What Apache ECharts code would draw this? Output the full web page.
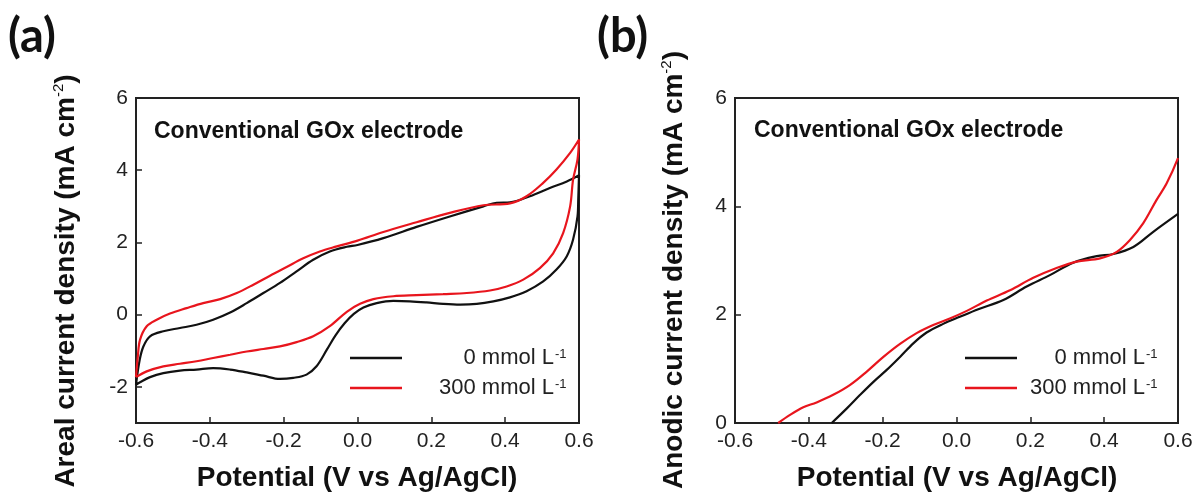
<!DOCTYPE html>
<html>
<head>
<meta charset="utf-8">
<script src="https://cdn.jsdelivr.net/npm/echarts@6/dist/echarts.min.js"></script>
<style>
  html, body { margin: 0; padding: 0; background: #fff; }
  #chart { width: 1197px; height: 495px; }
</style>
</head>
<body>
<div id="chart"></div>
<script>
// ---------- Tick labels ----------
const xTicks = [-0.6, -0.4, -0.2, 0.0, 0.2, 0.4, 0.6];
const yTicksA = [-2, 0, 2, 4, 6];
const yTicksB = [0, 2, 4, 6];

// ---------- Series names ----------
const seriesNames = ['0 mmol L-1', '300 mmol L-1'];

// ---------- Panel (a): full CV loops (anodic sweep then cathodic sweep) ----------
const aBlackX = [-0.600, -0.590, -0.580, -0.562, -0.526, -0.481, -0.436, -0.391, -0.345, -0.300, -0.255, -0.210, -0.165, -0.120, -0.075, -0.029, 0.000, 0.070, 0.160, 0.250, 0.341, 0.377, 0.413, 0.467, 0.521, 0.567, 0.600,
                 0.598, 0.596, 0.584, 0.567, 0.539, 0.503, 0.458, 0.413, 0.368, 0.323, 0.278, 0.232, 0.187, 0.142, 0.097, 0.052, 0.016, -0.010, -0.035, -0.060, -0.083, -0.111, -0.138, -0.174, -0.210, -0.255, -0.300, -0.345, -0.391, -0.436, -0.481, -0.526, -0.562, -0.589, -0.600];
const aBlackY = [-1.94, -1.25, -0.88, -0.60, -0.46, -0.37, -0.28, -0.14, 0.06, 0.32, 0.60, 0.88, 1.20, 1.52, 1.75, 1.88, 1.93, 2.12, 2.43, 2.72, 3.00, 3.10, 3.11, 3.28, 3.51, 3.69, 3.86,
                 3.20, 2.72, 2.08, 1.62, 1.25, 0.92, 0.65, 0.48, 0.37, 0.30, 0.28, 0.30, 0.34, 0.37, 0.38, 0.32, 0.20, 0.02, -0.24, -0.58, -0.97, -1.43, -1.66, -1.75, -1.78, -1.69, -1.60, -1.52, -1.48, -1.52, -1.55, -1.62, -1.73, -1.87, -1.94];

const aRedX = [-0.600, -0.595, -0.589, -0.571, -0.544, -0.508, -0.463, -0.418, -0.372, -0.327, -0.282, -0.237, -0.192, -0.147, -0.102, -0.056, 0.000, 0.070, 0.160, 0.250, 0.341, 0.413, 0.458, 0.503, 0.539, 0.576, 0.600,
               0.596, 0.584, 0.576, 0.557, 0.530, 0.494, 0.449, 0.404, 0.359, 0.296, 0.232, 0.160, 0.097, 0.043, 0.007, -0.029, -0.075, -0.120, -0.165, -0.210, -0.255, -0.300, -0.345, -0.391, -0.436, -0.481, -0.526, -0.571, -0.600];
const aRedY = [-1.73, -1.15, -0.69, -0.32, -0.14, 0.03, 0.18, 0.32, 0.43, 0.60, 0.83, 1.08, 1.32, 1.56, 1.75, 1.89, 2.05, 2.29, 2.56, 2.82, 3.03, 3.08, 3.28, 3.65, 4.02, 4.48, 4.85,
               4.30, 3.74, 3.00, 2.26, 1.70, 1.29, 0.97, 0.78, 0.67, 0.60, 0.57, 0.54, 0.51, 0.43, 0.30, 0.08, -0.32, -0.60, -0.76, -0.88, -0.95, -1.02, -1.11, -1.20, -1.29, -1.36, -1.43, -1.57, -1.73];

// ---------- Panel (b): anodic branches ----------
const bBlackX = [-0.338, -0.297, -0.261, -0.225, -0.189, -0.153, -0.117, -0.081, -0.036, 0.009, 0.059, 0.127, 0.190, 0.253, 0.316, 0.380, 0.425, 0.479, 0.533, 0.600];
const bBlackY = [0.00, 0.27, 0.52, 0.76, 0.98, 1.22, 1.47, 1.67, 1.83, 1.96, 2.10, 2.27, 2.52, 2.73, 2.96, 3.08, 3.12, 3.25, 3.53, 3.86];

const bRedX = [-0.483, -0.451, -0.415, -0.379, -0.334, -0.289, -0.243, -0.198, -0.153, -0.108, -0.063, -0.018, 0.028, 0.082, 0.145, 0.208, 0.271, 0.325, 0.389, 0.434, 0.470, 0.506, 0.542, 0.569, 0.600];
const bRedY = [0.00, 0.15, 0.29, 0.38, 0.52, 0.70, 0.95, 1.22, 1.46, 1.66, 1.81, 1.93, 2.07, 2.26, 2.45, 2.68, 2.86, 2.98, 3.04, 3.16, 3.38, 3.69, 4.12, 4.42, 4.89];

// ---------- Build ----------
const zip = (xs, ys) => xs.map((x, i) => [x, ys[i]]);
const FONT = "'Liberation Sans', Arial, sans-serif";
const BLACK = '#111111';
const RED = '#e8151d';
const AXIS = '#222222';
const TICK_FS = 21;
const LEG_FS = 22;

function fmtX(v) {
  const r = Math.round(v * 10) / 10;
  return (Math.abs(r) < 1e-9 ? 0 : r).toFixed(1);
}

function xAxisFor(gridIndex) {
  return {
    type: 'value', gridIndex, min: -0.6, max: 0.6, interval: 0.2,
    axisLine: { show: true, onZero: false, lineStyle: { color: AXIS, width: 2 } },
    axisTick: { show: true, inside: true, length: 6, lineStyle: { color: AXIS, width: 1.5 } },
    axisLabel: { fontSize: TICK_FS, color: '#222', fontFamily: FONT, margin: 8, formatter: fmtX },
    splitLine: { show: false }
  };
}

function yAxisFor(gridIndex, min, max, ticks) {
  return {
    type: 'value', gridIndex, min, max,
    axisLine: { show: true, onZero: false, lineStyle: { color: AXIS, width: 2 } },
    axisTick: { show: true, inside: true, length: 6, customValues: ticks, lineStyle: { color: AXIS, width: 1.5 } },
    axisLabel: { fontSize: TICK_FS, color: '#222', fontFamily: FONT, margin: 8, customValues: ticks },
    splitLine: { show: false }
  };
}

// padLong: space between the line sample and the longer label; the short one is shifted so both end flush right
function legendFor(left, top, padLong) {
  const padShort = padLong + 2 * 0.556 * LEG_FS; // "0" vs "300": two extra digits
  return {
    left, top, padding: 0, orient: 'vertical', icon: 'rect', itemWidth: 52, itemHeight: 2.5, itemGap: 8,
    data: seriesNames,
    formatter: function (name) {
      const key = name.indexOf('300') === 0 ? 'tl' : 'ts';
      return '{' + key + '|' + name.replace(/-1$/, '') + '}{s|-1}';
    },
    textStyle: {
      color: '#222', fontFamily: FONT,
      rich: {
        ts: { fontSize: LEG_FS, lineHeight: 24, padding: [0, 0, 0, padShort], color: '#222', fontFamily: FONT },
        tl: { fontSize: LEG_FS, lineHeight: 24, padding: [0, 0, 0, padLong], color: '#222', fontFamily: FONT },
        s: { fontSize: 13, padding: [0, 0, 8, 1], color: '#222', fontFamily: FONT }
      }
    }
  };
}

function lineSeries(name, xi, yi, data, color) {
  return {
    name, type: 'line', xAxisIndex: xi, yAxisIndex: yi, data,
    showSymbol: false, symbol: 'none', smooth: 0.35, clip: true,
    lineStyle: { color, width: 2.2 }, itemStyle: { color },
    emphasis: { disabled: true }, animation: false
  };
}

function yTitle(x, y, text) {
  return {
    type: 'text', x, y, rotation: Math.PI / 2,
    style: {
      text: '{t|' + text + ' (mA cm}{s|-2}{t|)}',
      align: 'center', verticalAlign: 'middle',
      rich: {
        t: { fontSize: 28, fontWeight: 'bold', fill: '#111', fontFamily: FONT },
        s: { fontSize: 15, fontWeight: 'normal', fill: '#111', fontFamily: FONT, padding: [0, 0, 14, 0] }
      }
    }
  };
}

function plainText(x, y, text, size, weight, family, align, vAlign) {
  return {
    type: 'text', x, y,
    style: { text, fontSize: size, fontWeight: weight, fontFamily: family, fill: '#111', align, verticalAlign: vAlign }
  };
}

const chart = echarts.init(document.getElementById('chart'), null, { renderer: 'canvas' });
chart.setOption({
  backgroundColor: '#ffffff',
  animation: false,
  grid: [
    { left: 136, top: 98, width: 443, height: 325, show: true, borderColor: AXIS, borderWidth: 2, backgroundColor: 'transparent' },
    { left: 735, top: 98, width: 443, height: 325, show: true, borderColor: AXIS, borderWidth: 2, backgroundColor: 'transparent' }
  ],
  xAxis: [xAxisFor(0), xAxisFor(1)],
  yAxis: [yAxisFor(0, -3, 6, yTicksA), yAxisFor(1, 0, 6, yTicksB)],
  legend: [legendFor(350, 347, 32), legendFor(965, 347, 8)],
  series: [
    lineSeries(seriesNames[0], 0, 0, zip(aBlackX, aBlackY), BLACK),
    lineSeries(seriesNames[1], 0, 0, zip(aRedX, aRedY), RED),
    lineSeries(seriesNames[0], 1, 1, zip(bBlackX, bBlackY), BLACK),
    lineSeries(seriesNames[1], 1, 1, zip(bRedX, bRedY), RED)
  ],
  graphic: [
    plainText(8, 37, '(a)', 47, 'bold', "Lato, 'Open Sans', sans-serif", 'left', 'middle'),
    plainText(597, 37, '(b)', 47, 'bold', "Lato, 'Open Sans', sans-serif", 'left', 'middle'),
    yTitle(66, 281, 'Areal current density'),
    yTitle(674, 270, 'Anodic current density'),
    plainText(357, 478, 'Potential (V vs Ag/AgCl)', 28, 'bold', FONT, 'center', 'middle'),
    plainText(957, 478, 'Potential (V vs Ag/AgCl)', 28, 'bold', FONT, 'center', 'middle'),
    plainText(154, 132, 'Conventional GOx electrode', 23, 'bold', FONT, 'left', 'middle'),
    plainText(754, 131, 'Conventional GOx electrode', 23, 'bold', FONT, 'left', 'middle')
  ]
});
</script>
</body>
</html>
